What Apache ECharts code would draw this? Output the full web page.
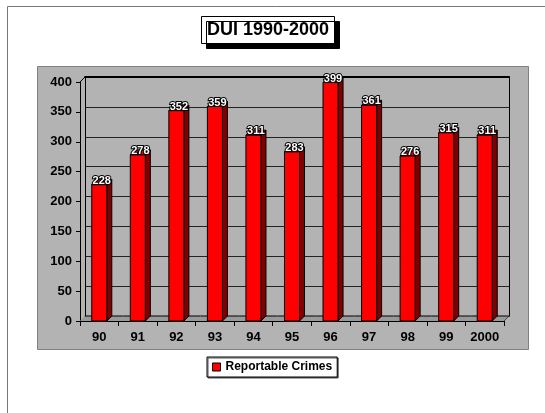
<!DOCTYPE html>
<html>
<head>
<meta charset="utf-8">
<script src="https://cdn.jsdelivr.net/npm/echarts@6/dist/echarts.min.js"></script>
<style>
  html, body { margin: 0; padding: 0; background: #fff; }
  #main { width: 545px; height: 413px; }
</style>
</head>
<body>
<div id="main"></div>
<script>
// data
var years = ['90', '91', '92', '93', '94', '95', '96', '97', '98', '99', '2000'];
var crimes = [228, 278, 352, 359, 311, 283, 399, 361, 276, 315, 311];
var yTicks = { min: 0, max: 400, step: 50 };

var FONT = 'Liberation Sans, Arial, sans-serif';
var DX = 5, DY = 5; // depth of the 3d look

var myChart = echarts.init(document.getElementById('main'));

// 3d bar: floor piece + front face + side + top + label
function renderBar(params, api) {
    var i = api.value(0);
    var v = api.value(1);
    var top = api.coord([i, v]);
    var base = api.coord([i, 0]);
    var band = api.size([1, 0])[0];
    var w = band * 0.39;
    var x0 = top[0] - w / 2, x1 = top[0] + w / 2;
    var yt = top[1], yb = base[1];
    var fx0 = top[0] - band / 2, fx1 = top[0] + band / 2;
    var line = { stroke: '#000', lineWidth: 1, fill: null };
    return {
        type: 'group',
        children: [
            { type: 'polygon', shape: { points: [[fx0, yb], [fx1, yb], [fx1 + DX, yb - DY], [fx0 + DX, yb - DY]] },
              style: { fill: '#999999' } },
            { type: 'line', shape: { x1: fx0 + DX, y1: yb - DY, x2: fx1 + DX, y2: yb - DY }, style: line },
            { type: 'polygon', shape: { points: [[x1, yt], [x1 + DX, yt - DY], [x1 + DX, yb - DY], [x1, yb]] },
              style: { fill: '#800000', stroke: '#000', lineWidth: 1 } },
            { type: 'polygon', shape: { points: [[x0, yt], [x0 + DX, yt - DY], [x1 + DX, yt - DY], [x1, yt]] },
              style: { fill: '#e00000', stroke: '#000', lineWidth: 1 } },
            { type: 'rect', shape: { x: x0, y: yt, width: w, height: yb - yt },
              style: { fill: '#ff0000', stroke: '#000', lineWidth: 1 } },
            { type: 'text', x: top[0] + DX / 2, y: yt - 4,
              style: { text: String(v), fill: '#fff', stroke: '#000', lineWidth: 2,
                       font: 'bold 11px ' + FONT, align: 'center', verticalAlign: 'middle' } }
        ]
    };
}

var option = {
    animation: false,
    title: {
        text: 'DUI 1990-2000',
        left: 201,
        top: 16,
        padding: [5, 6],
        backgroundColor: '#fff',
        borderColor: '#000',
        borderWidth: 1,
        shadowColor: '#000',
        shadowOffsetX: 5,
        shadowOffsetY: 5,
        shadowBlur: 0.01,
        textStyle: { fontFamily: FONT, fontSize: 18, fontWeight: 'bold', color: '#000' }
    },
    legend: {
        data: ['Reportable Crimes'],
        left: 207,
        top: 357,
        padding: [4, 5],
        backgroundColor: '#fff',
        borderColor: '#000',
        borderWidth: 1,
        shadowColor: '#555',
        shadowOffsetX: 1,
        shadowOffsetY: 1,
        shadowBlur: 0.01,
        itemWidth: 8,
        itemHeight: 8,
        icon: 'rect',
        itemStyle: { color: '#ff0000', borderColor: '#000', borderWidth: 1 },
        textStyle: { fontFamily: FONT, fontSize: 12, fontWeight: 'bold', color: '#000' }
    },
    graphic: [
        { type: 'rect', z: -10, shape: { x: 37.5, y: 66.5, width: 491, height: 283 },
          style: { fill: '#b3b3b3', stroke: '#808080', lineWidth: 1 } },
        { type: 'polyline', z: -10, shape: { points: [[7.5, 413], [7.5, 6.5], [545, 6.5]] },
          style: { fill: null, stroke: '#777', lineWidth: 1 } },
        { type: 'line', z: -5, shape: { x1: 80, y1: 82, x2: 85, y2: 77 },
          style: { stroke: '#000', lineWidth: 1 } },
        { type: 'line', z: -5, shape: { x1: 504, y1: 321, x2: 509, y2: 316 },
          style: { stroke: '#000', lineWidth: 1 } }
    ],
    grid: [
        { left: 80, right: 41, top: 82, bottom: 92 },
        { left: 85, right: 36, top: 77, bottom: 97 }
    ],
    xAxis: [
        {
            type: 'category',
            gridIndex: 0,
            data: years,
            axisLine: { onZero: false, lineStyle: { color: '#000', width: 1 } },
            axisTick: { show: true, length: 5, lineStyle: { color: '#000' } },
            axisLabel: { margin: 10, fontFamily: FONT, fontSize: 13, fontWeight: 'bold', color: '#000' }
        },
        {
            type: 'value',
            gridIndex: 1,
            position: 'bottom',
            min: 0,
            max: 1,
            axisLine: { show: true, onZero: false, lineStyle: { color: '#000', width: 1 } },
            axisTick: { show: false },
            axisLabel: { show: false },
            splitLine: { show: false }
        },
        {
            type: 'value',
            gridIndex: 1,
            position: 'top',
            min: 0,
            max: 1,
            axisLine: { show: true, onZero: false, lineStyle: { color: '#000', width: 2 } },
            axisTick: { show: false },
            axisLabel: { show: false },
            splitLine: { show: false }
        }
    ],
    yAxis: [
        {
            type: 'value',
            gridIndex: 0,
            min: yTicks.min,
            max: yTicks.max,
            interval: yTicks.step,
            axisLine: { show: true, onZero: false, lineStyle: { color: '#000', width: 1 } },
            axisTick: { show: true, length: 4, lineStyle: { color: '#000' } },
            axisLabel: { margin: 8, fontFamily: FONT, fontSize: 13, fontWeight: 'bold', color: '#000' },
            splitLine: { show: false }
        },
        {
            type: 'value',
            gridIndex: 1,
            position: 'left',
            min: yTicks.min,
            max: yTicks.max,
            interval: yTicks.step,
            axisLine: { show: true, onZero: false, lineStyle: { color: '#000', width: 1 } },
            axisTick: { show: false },
            axisLabel: { show: false },
            splitLine: { show: true, lineStyle: { color: '#222', width: 1 } }
        },
        {
            type: 'value',
            gridIndex: 1,
            position: 'right',
            min: yTicks.min,
            max: yTicks.max,
            interval: yTicks.step,
            axisLine: { show: true, onZero: false, lineStyle: { color: '#000', width: 1 } },
            axisTick: { show: false },
            axisLabel: { show: false },
            splitLine: { show: false }
        }
    ],
    series: [
        {
            name: 'Reportable Crimes',
            type: 'custom',
            xAxisIndex: 0,
            yAxisIndex: 0,
            itemStyle: { color: '#ff0000' },
            renderItem: renderBar,
            data: crimes.map(function (v, i) { return [i, v]; })
        }
    ]
};

myChart.setOption(option);
</script>
</body>
</html>
